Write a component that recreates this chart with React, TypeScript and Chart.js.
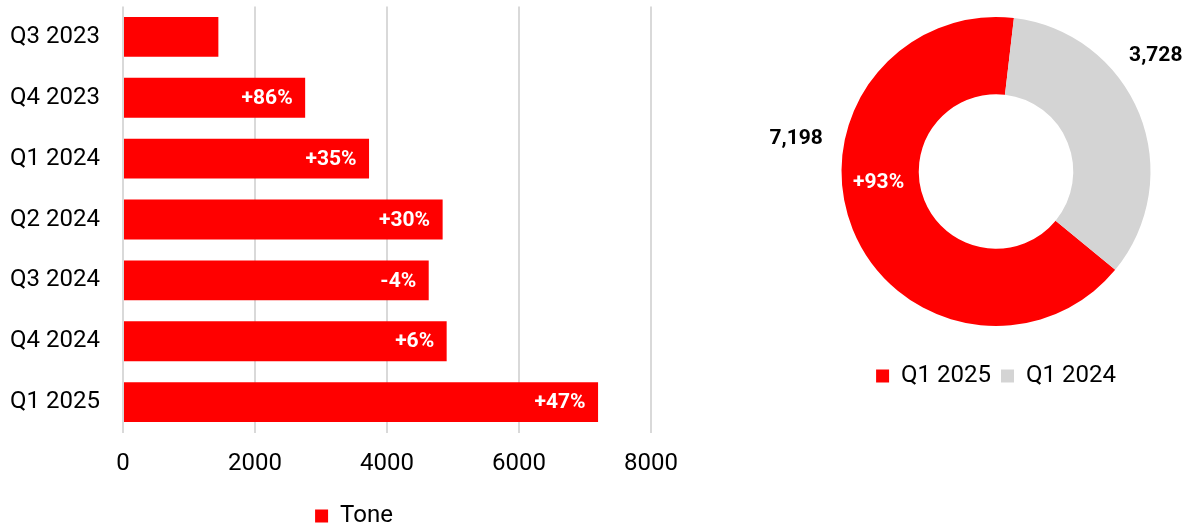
import React, { useEffect, useRef } from 'react';
import { Chart, registerables } from 'chart.js';

Chart.register(...registerables);

// ---- data ----
const categories = ['Q3 2023', 'Q4 2023', 'Q1 2024', 'Q2 2024', 'Q3 2024', 'Q4 2024', 'Q1 2025'];
const toneValues = [1445, 2760, 3728, 4843, 4632, 4904, 7198];
const growthLabels = ['', '+86%', '+35%', '+30%', '-4%', '+6%', '+47%'];
const xTicks = [0, 2000, 4000, 6000, 8000];
const seriesName = 'Tone';

const pieLabels = ['Q1 2025', 'Q1 2024'];
const pieValues = [7198, 3728];
const pieChangeLabels = ['+93%', ''];

// ---- styles ----
const FONT = 'Roboto';
const RED = '#ff0000';
const GREY = '#d4d4d4';
const TEXT = '#000000';

Chart.defaults.font.family = FONT;
Chart.defaults.color = TEXT;

const barLabelPlugin = {
  id: 'barLabels',
  afterDatasetsDraw(chart: any) {
    const ctx = chart.ctx;
    const meta = chart.getDatasetMeta(0);
    ctx.save();
    ctx.font = `bold 21px ${FONT}`;
    ctx.fillStyle = '#ffffff';
    ctx.textAlign = 'right';
    ctx.textBaseline = 'middle';
    meta.data.forEach((bar: any, i: number) => {
      const t = growthLabels[i];
      if (!t) return;
      ctx.fillText(t, bar.x - 12.5, bar.y + 1);
    });
    ctx.restore();
  },
};

// angle in degrees clockwise from top; radial offset relative to ring
const pieValueSpots = [
  { angle: 279.2, extra: 48 },
  { angle: 54, extra: 43 },
];
const pieChangeSpot = { angle: 264.7 };

const pieLabelPlugin = {
  id: 'pieLabels',
  afterDatasetsDraw(chart: any) {
    const ctx = chart.ctx;
    const meta = chart.getDatasetMeta(0);
    const values = chart.data.datasets[0].data as number[];
    ctx.save();
    ctx.textAlign = 'center';
    ctx.textBaseline = 'middle';
    meta.data.forEach((arc: any, i: number) => {
      const { x, y, outerRadius, innerRadius } = arc.getProps(['x', 'y', 'outerRadius', 'innerRadius'], true);
      const spot = pieValueSpots[i];
      const r = outerRadius + spot.extra;
      const a = (spot.angle * Math.PI) / 180;
      ctx.font = `bold 21px ${FONT}`;
      ctx.fillStyle = TEXT;
      ctx.fillText(values[i].toLocaleString('en-US'), x + r * Math.sin(a), y - r * Math.cos(a));
      const ch = pieChangeLabels[i];
      if (ch) {
        const rm = (outerRadius + innerRadius) / 2 + 2;
        const b = (pieChangeSpot.angle * Math.PI) / 180;
        ctx.fillStyle = '#ffffff';
        ctx.fillText(ch, x + rm * Math.sin(b), y - rm * Math.cos(b));
      }
    });
    ctx.restore();
  },
};

export default function App() {
  const barRef = useRef<HTMLCanvasElement>(null);
  const pieRef = useRef<HTMLCanvasElement>(null);

  useEffect(() => {
    const labelFont = { family: FONT, size: 24 };
    const bar = new Chart(barRef.current as HTMLCanvasElement, {
      type: 'bar',
      data: {
        labels: categories,
        datasets: [
          {
            label: seriesName,
            data: toneValues,
            backgroundColor: RED,
            borderWidth: 0,
            barPercentage: 0.655,
            categoryPercentage: 1,
          },
        ],
      },
      options: {
        indexAxis: 'y',
        responsive: false,
        animation: false,
        layout: { padding: { top: 6.5, right: 0, left: 0, bottom: 0 } },
        scales: {
          x: {
            min: xTicks[0],
            max: xTicks[xTicks.length - 1],
            ticks: {
              stepSize: xTicks[1] - xTicks[0],
              padding: 17.5,
              color: TEXT,
              font: labelFont,
              maxRotation: 0,
              callback: (v: any) => String(v),
            },
            grid: { color: '#d9d9d9', lineWidth: 2, drawTicks: false },
            border: { display: false },
            afterFit: (s: any) => {
              s.height = 67;
              s.paddingRight = 57;
            },
          },
          y: {
            ticks: { padding: 23, color: TEXT, font: labelFont },
            grid: { display: false, drawTicks: false },
            border: { display: false },
            afterFit: (s: any) => {
              s.width = 123;
              s.paddingTop = 0;
              s.paddingBottom = 0;
            },
          },
        },
        plugins: {
          legend: {
            position: 'bottom',
            labels: { boxWidth: 13, boxHeight: 13, padding: 4.5, color: TEXT, font: labelFont },
          },
          tooltip: { enabled: false },
        },
      },
      plugins: [barLabelPlugin],
    } as any);

    const pie = new Chart(pieRef.current as HTMLCanvasElement, {
      type: 'doughnut',
      data: {
        labels: pieLabels,
        datasets: [{ data: pieValues, backgroundColor: [RED, GREY], borderWidth: 0 }],
      },
      options: {
        responsive: false,
        animation: false,
        rotation: 129.5,
        cutout: '50%',
        layout: { padding: { top: 17, left: 88, right: 9, bottom: 0 } },
        plugins: {
          legend: {
            position: 'bottom',
            labels: { boxWidth: 13, boxHeight: 13, padding: 10, color: TEXT, font: labelFont },
          },
          subtitle: {
            display: true,
            text: ' ',
            position: 'bottom',
            weight: 500,
            padding: 0,
            font: { size: 28, lineHeight: 1 },
          },
          tooltip: { enabled: false },
        },
      },
      plugins: [pieLabelPlugin],
    } as any);

    return () => {
      bar.destroy();
      pie.destroy();
    };
  }, []);

  return (
    <div
      style={{
        position: 'absolute',
        left: 0,
        top: 0,
        width: 1193,
        height: 532,
        overflow: 'hidden',
        background: '#ffffff',
      }}
    >
      <canvas
        ref={barRef}
        width={708}
        height={538}
        style={{ position: 'absolute', left: 0, top: 0, width: 708, height: 538 }}
      />
      <canvas
        ref={pieRef}
        width={473}
        height={398}
        style={{ position: 'absolute', left: 720, top: 0, width: 473, height: 398 }}
      />
    </div>
  );
}
